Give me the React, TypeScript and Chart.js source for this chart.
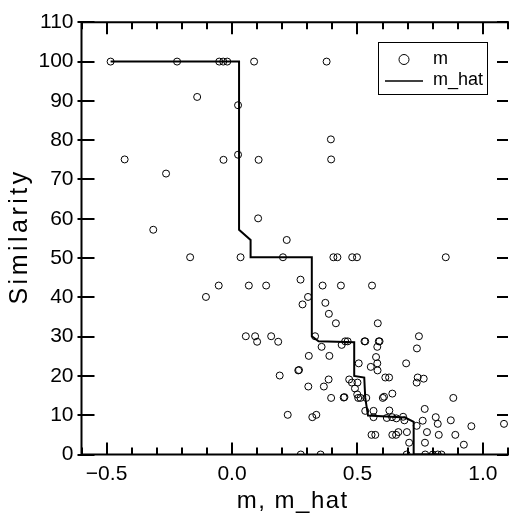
import React, { useEffect, useRef } from "react";
import { Chart, registerables } from "chart.js";

Chart.register(...registerables);

// ---- data ----
const mX = [
  -0.484, -0.219, -0.051, -0.035, -0.019, 0.088, 0.377, -0.139, 0.024, -0.428,
  -0.034, 0.024, 0.106, 0.395, 0.394, -0.263, 0.104, -0.314, 0.218, -0.167,
  0.034, 0.203, 0.404, 0.42, 0.479, 0.498, 0.852, -0.053, 0.067, 0.136,
  0.361, 0.434, 0.558, 0.273, -0.104, 0.303, 0.281, 0.372, 0.386, 0.414,
  0.581, 0.055, 0.092, 0.156, 0.331, 0.745, 0.1, 0.184, 0.451, 0.461,
  0.528, 0.531, 0.585, 0.588, 0.357, 0.437, 0.579, 0.737, 0.306, 0.388,
  0.574, 0.579, 0.553, 0.58, 0.505, 0.694, 0.264, 0.267, 0.19, 0.611,
  0.626, 0.74, 0.764, 0.736, 0.385, 0.304, 0.366, 0.467, 0.478, 0.49,
  0.5, 0.499, 0.395, 0.445, 0.448, 0.503, 0.512, 0.535, 0.601, 0.606,
  0.882, 0.639, 0.222, 0.32, 0.336, 0.531, 0.564, 0.564, 0.627, 0.617,
  0.638, 0.655, 0.682, 0.687, 0.768, 0.736, 0.76, 0.777, 0.812, 0.82,
  0.872, 0.954, 1.084, 0.556, 0.571, 0.639, 0.654, 0.824, 0.89, 0.663,
  0.697, 0.706, 0.769, 0.924, 0.274, 0.353, 0.696, 0.77, 0.8, 0.82,
  0.835,
];
const mY = [
  100, 100, 100, 100, 100, 100, 100, 91, 88.9, 75.1,
  75, 76.3, 75, 75.1, 80.2, 71.5, 60.1, 57.2, 54.6, 50.2,
  50.2, 50.2, 50.2, 50.2, 50.2, 50.2, 50.2, 43, 43, 43,
  43, 43, 43, 44.5, 40.1, 40.1, 38.2, 38.6, 35.8, 33.4,
  33.4, 30.1, 30.1, 30.1, 30.1, 30.1, 28.7, 28.7, 28.8, 28.8,
  28.8, 28.8, 28.8, 28.8, 27.4, 27.9, 27.4, 27, 25.1, 25.1,
  24.8, 23.2, 22.3, 21.4, 23.2, 23.2, 21.4, 21.5, 20.1, 19.6,
  19.6, 19.6, 19.3, 18.3, 19.1, 17.3, 17.3, 19.1, 18.3, 16.8,
  18.3, 15.3, 14.4, 14.5, 14.6, 14.4, 14.4, 14.4, 14.4, 14.7,
  14.4, 15.5, 10.1, 9.5, 10.1, 11.1, 11.1, 9.5, 11.2, 9.3,
  9.5, 9.2, 9.6, 8.7, 11.6, 7.3, 8.6, 5.7, 9.5, 7.8,
  8.7, 7.2, 7.8, 5, 5, 5, 5, 5, 5, 5.7,
  5.7, 3, 3, 2.5, 0, 0, 0, 0, 0, 0,
  0,
];
const mHatX = [-0.484, 0.028, 0.028, 0.074, 0.074, 0.318, 0.318, 0.345, 0.487, 0.487, 0.527, 0.531, 0.542, 0.69, 0.724, 0.724, 0.835];
const mHatY = [100, 100, 57.2, 54.6, 50.2, 50.2, 30.1, 28.8, 28.6, 20, 19.6, 14.4, 9.9, 9.4, 8.3, 0, 0];

const xTickVals = [-0.5, 0, 0.5, 1.0];
const xMinorVals = [-0.6, -0.5, -0.4, -0.3, -0.2, -0.1, 0, 0.1, 0.2, 0.3, 0.4, 0.5, 0.6, 0.7, 0.8, 0.9, 1.0, 1.1];
const yTickVals = [0, 10, 20, 30, 40, 50, 60, 70, 80, 90, 100, 110];
const seriesNames = ["m", "m_hat"];
const xTitle = "m, m_hat";
const yTitle = "Similarity";

const FONT = "'Liberation Sans', Arial, sans-serif";

const framePlugin = {
  id: "frame",
  afterDraw(chart: any) {
    const { ctx, chartArea } = chart;
    const xs = chart.scales.x;
    const ys = chart.scales.y;
    const { left, right, top, bottom } = chartArea;
    ctx.save();
    ctx.strokeStyle = "#000";
    ctx.lineWidth = 2;
    ctx.beginPath();
    ctx.moveTo(right + 1, top);
    ctx.lineTo(left, top);
    ctx.lineTo(left, bottom);
    ctx.lineTo(right + 1, bottom);
    ctx.stroke();
    ctx.beginPath();
    for (const v of yTickVals) {
      const py = Math.round(ys.getPixelForValue(v));
      ctx.moveTo(left - 4, py);
      ctx.lineTo(left + 13, py);
      ctx.moveTo(right, py);
      ctx.lineTo(right - 11, py);
    }
    for (const v of xMinorVals) {
      const px = Math.round(xs.getPixelForValue(v));
      const major = xTickVals.some((t) => Math.abs(t - v) < 1e-9);
      const len = major ? 12 : 7;
      ctx.moveTo(px, bottom);
      ctx.lineTo(px, bottom - len);
      ctx.moveTo(px, top);
      ctx.lineTo(px, top + len);
    }
    ctx.stroke();

    // axis titles
    ctx.fillStyle = "#000";
    ctx.textAlign = "center";
    ctx.textBaseline = "alphabetic";
    ctx.font = `24px ${FONT}`;
    (ctx as any).letterSpacing = "1.5px";
    ctx.fillText(xTitle, (left + right) / 2 - 2, 508);
    ctx.save();
    ctx.translate(27, (top + bottom) / 2 - 2);
    ctx.rotate(-Math.PI / 2);
    ctx.font = `25px ${FONT}`;
    (ctx as any).letterSpacing = "3.5px";
    ctx.fillText(yTitle, 0, 0);
    ctx.restore();
    (ctx as any).letterSpacing = "0px";

    // legend
    const lx = 378.5, ly = 42.5, lw = 109, lh = 52;
    ctx.fillStyle = "#fff";
    ctx.fillRect(lx, ly, lw, lh);
    ctx.lineWidth = 1;
    ctx.strokeRect(lx, ly, lw, lh);
    ctx.beginPath();
    ctx.arc(404, 59.5, 5, 0, Math.PI * 2);
    ctx.stroke();
    ctx.lineWidth = 1.5;
    ctx.beginPath();
    ctx.moveTo(385, 81);
    ctx.lineTo(423, 81);
    ctx.stroke();
    ctx.fillStyle = "#000";
    ctx.font = `18px ${FONT}`;
    ctx.textBaseline = "middle";
    ctx.textAlign = "left";
    ctx.fillText(seriesNames[0], 433, 59);
    ctx.fillText(seriesNames[1], 433, 80);
    ctx.restore();
  },
};

export default function App() {
  const ref = useRef<HTMLCanvasElement | null>(null);
  useEffect(() => {
    document.body.style.margin = "0";
    const canvas = ref.current!;
    const chart = new Chart(canvas, {
      type: "scatter",
      data: {
        datasets: [
          {
            label: seriesNames[0],
            data: mX.map((x, i) => ({ x, y: mY[i] })),
            pointRadius: 3.5,
            pointBorderWidth: 1,
            pointBorderColor: "#000",
            pointBackgroundColor: "rgba(0,0,0,0)",
            showLine: false,
          },
          {
            type: "line",
            label: seriesNames[1],
            data: mHatX.map((x, i) => ({ x, y: mHatY[i] })),
            borderColor: "#000",
            borderWidth: 2,
            pointRadius: 0,
            fill: false,
            tension: 0,
          } as any,
        ],
      },
      options: {
        animation: false,
        responsive: false,
        devicePixelRatio: 1,
        layout: { padding: { top: 22.3, right: 0, left: 0, bottom: 0 } },
        plugins: { legend: { display: false }, tooltip: { enabled: false } },
        scales: {
          x: {
            type: "linear",
            min: -0.6,
            max: 1.1,
            grid: { display: false, drawTicks: false },
            border: { display: false },
            afterBuildTicks: (s: any) => {
              s.ticks = xTickVals.map((v) => ({ value: v }));
            },
            afterFit: (s: any) => {
              s.height = 63.5;
            },
            ticks: {
              color: "#000",
              padding: 7,
              font: { family: FONT, size: 21 },
              callback: (v: any) => (Number(v) < 0 ? "\u2212" : "") + Math.abs(Number(v)).toFixed(1),
            },
          },
          y: {
            type: "linear",
            min: 0,
            max: 110,
            grid: { display: false, drawTicks: false },
            border: { display: false },
            afterBuildTicks: (s: any) => {
              s.ticks = yTickVals.map((v) => ({ value: v }));
            },
            afterFit: (s: any) => {
              s.width = 81.5;
            },
            ticks: {
              color: "#000",
              padding: 8,
              font: { family: FONT, size: 21 },
            },
          },
        },
      },
      plugins: [framePlugin],
    });
    return () => chart.destroy();
  }, []);
  return (
    <div style={{ position: "absolute", left: 0, top: 0, width: 513, height: 518 }}>
      <canvas ref={ref} width={513} height={518} />
    </div>
  );
}
